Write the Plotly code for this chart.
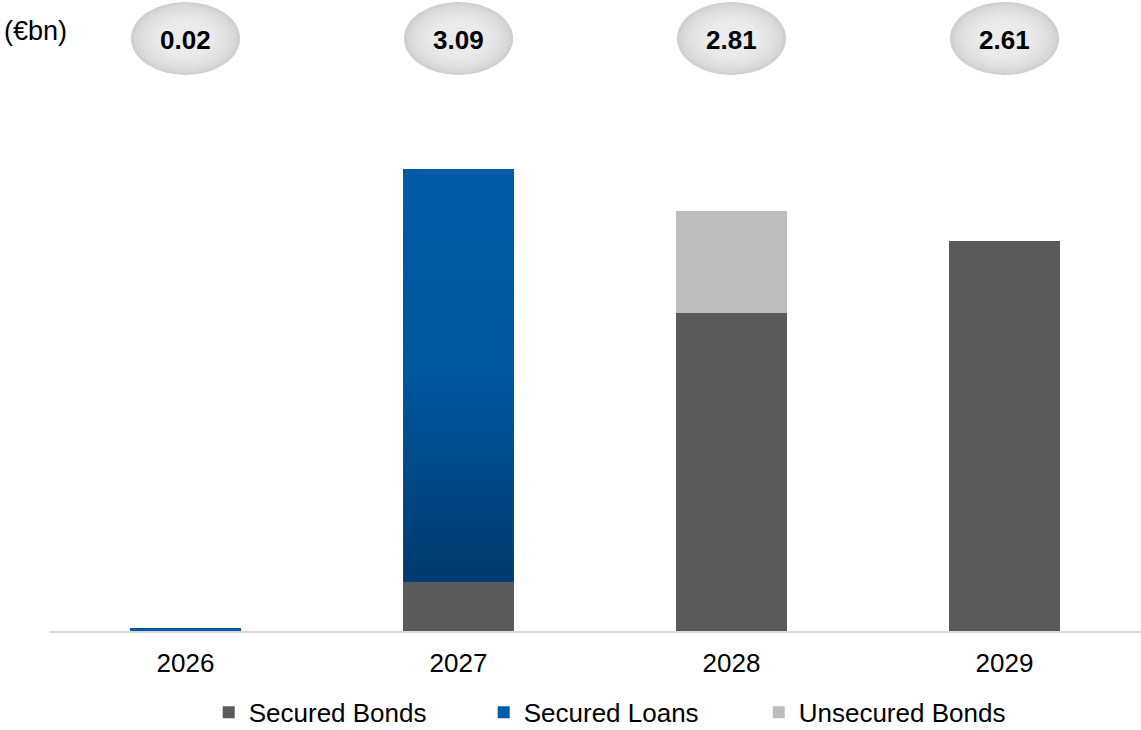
import plotly.graph_objects as go

years = ["2026", "2027", "2028", "2029"]
secured_bonds = [0.0, 0.33, 2.13, 2.61]
secured_loans = [0.02, 2.76, 0.0, 0.0]
unsecured_bonds = [0.0, 0.0, 0.68, 0.0]

C_BONDS = "#5a5a5a"
C_LOANS = "#005aa6"
C_UNSEC = "#bdbdbd"
FONT = "Liberation Sans, Arial, sans-serif"
BAR_W = 0.403

xs = list(range(len(years)))
totals = [a + b + c for a, b, c in zip(secured_bonds, secured_loans, unsecured_bonds)]

fig = go.Figure()
fig.add_trace(go.Bar(x=xs, y=secured_bonds, name="Secured Bonds", marker_color=C_BONDS,
                     width=BAR_W, marker_line_width=0))
fig.add_trace(go.Bar(x=xs, y=secured_loans, name="Secured Loans", marker_color=C_LOANS,
                     width=BAR_W, marker_line_width=0))
fig.add_trace(go.Bar(x=xs, y=unsecured_bonds, name="Unsecured Bonds", marker_color=C_UNSEC,
                     width=BAR_W, marker_line_width=0))

# gradient overlay for the secured-loan segments (derived from the data)
for i, (b, v) in enumerate(zip(secured_bonds, secured_loans)):
    if v > 0.1:
        x0, x1 = i - BAR_W / 2, i + BAR_W / 2
        y0, y1 = b, b + v
        fig.add_trace(go.Scatter(
            x=[x0, x1, x1, x0, x0], y=[y0, y0, y1, y1, y0], mode="lines",
            line=dict(width=0), fill="toself", showlegend=False, hoverinfo="skip",
            fillgradient=dict(type="vertical",
                              colorscale=[[0, "#003a6e"], [0.5, "#00579f"], [1, "#005aa6"]])))

# bubbles with totals
for i, t in enumerate(totals):
    n = 9
    for k in range(n):
        s = 1 - k * 0.06
        g = int(208 + (234 - 208) * (k / (n - 1)) ** 0.6)
        col = f"rgb({g},{g},{g})"
        w = 0.2 * s
        h = 0.058 * s
        cx, cy = i, 0.939
        fig.add_shape(type="circle", xref="x", yref="paper",
                      x0=cx - w, x1=cx + w, y0=cy - h, y1=cy + h,
                      fillcolor=col, line_width=0, layer="above")
    fig.add_annotation(x=i, y=0.937, xref="x", yref="paper", text=f"<b>{t:.2f}</b>",
                       showarrow=False, yanchor="middle", xanchor="center",
                       font=dict(size=26, color="black", family=FONT))

fig.add_annotation(x=-0.0431, y=0.951, xref="paper", yref="paper", text="(€bn)",
                   showarrow=False, xanchor="left", yanchor="middle",
                   font=dict(size=27, color="black", family=FONT))

fig.update_layout(
    width=1141, height=730,
    margin=dict(l=49, r=0, t=0, b=99, autoexpand=False),
    barmode="stack",
    plot_bgcolor="white", paper_bgcolor="white",
    font=dict(family=FONT, size=26, color="black"),
    showlegend=True,
    legend=dict(orientation="h", x=0.524, xanchor="center", y=-0.166, yanchor="bottom",
                font=dict(size=26, family=FONT), entrywidth=230, traceorder="normal"),
    xaxis=dict(range=[-0.5, 3.5], tickvals=xs, ticktext=years, showgrid=False,
               zeroline=False, showline=True, linecolor="#d9d9d9", linewidth=2,
               ticks="", tickfont=dict(size=26, family=FONT), ticklabelstandoff=8),
    yaxis=dict(range=[0, 631 / 149.5], visible=False, showgrid=False, zeroline=False),
)

fig.write_html("out.html")
